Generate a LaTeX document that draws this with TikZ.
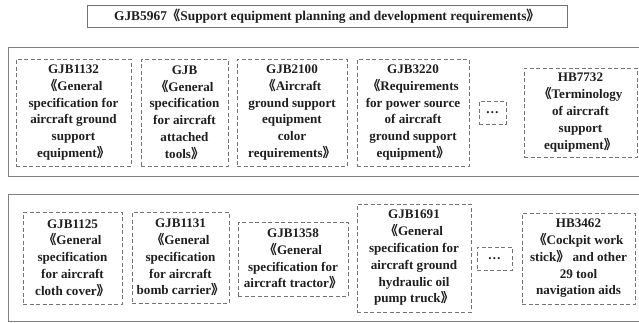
\documentclass[tikz,border=0pt]{standalone}
\usepackage{fontspec}
\setmainfont{Liberation Serif}
\newfontfamily\cjkfont{Noto Sans CJK SC}
\newcommand\lbk{{\cjkfont 《}}
\newcommand\rbk{{\cjkfont 》}}
\begin{document}
\begin{tikzpicture}[x=1pt,y=-1pt,
  txt/.style={font=\bfseries\fontsize{13.1}{16.8}\selectfont, text=black!88, align=center, inner sep=0pt},
  stdbox/.style={txt, draw=black!55, dashed, dash pattern=on 4pt off 2.5pt, line width=0.9pt},
  outerbox/.style={draw=black!50, line width=1.1pt},
  titlebox/.style={txt, draw=black!55, line width=1pt}]
\useasboundingbox (0,0) rectangle (639,322);
\clip (0,0) rectangle (639,322);
\node[titlebox, minimum width=480pt, minimum height=22pt, font=\bfseries\fontsize{13.4}{16.8}\selectfont] (title) at (327,16) {GJB5967\lbk Support equipment planning and development requirements\rbk};
\node[outerbox, minimum width=660pt, minimum height=129pt, anchor=north west, inner sep=0pt] (top) at (8,47) {};
\node[outerbox, minimum width=660pt, minimum height=127pt, anchor=north west, inner sep=0pt] (bot) at (8,194) {};
% top row
\node[stdbox, minimum width=115pt, minimum height=107pt] (a1) at (73.5,112.5) {GJB1132\\\lbk General\\specification for\\aircraft ground\\support\\equipment\rbk};
\node[stdbox, minimum width=87pt, minimum height=107pt] (a2) at (184.5,112.5) {GJB\\\lbk General\\specification\\for aircraft\\attached\\tools\rbk};
\node[stdbox, minimum width=110pt, minimum height=107pt] (a3) at (292,112.5) {GJB2100\\\lbk Aircraft\\ground support\\equipment\\color\\requirements\rbk};
\node[stdbox, minimum width=112pt, minimum height=107pt] (a4) at (413,112.5) {GJB3220\\\lbk Requirements\\for power source\\of aircraft\\ground support\\equipment\rbk};
\node[stdbox, minimum width=27pt, minimum height=23pt] (adots) at (492.5,112.5) {…};
\node[stdbox, minimum width=113pt, minimum height=89pt] (a5) at (580.5,112.5) {HB7732\\\lbk Terminology\\of aircraft\\support\\equipment\rbk};
% bottom row
\node[stdbox, minimum width=99pt, minimum height=92pt] (b1) at (72.5,258) {GJB1125\\\lbk General\\specification\\for aircraft\\cloth cover\rbk};
\node[stdbox, minimum width=97pt, minimum height=91pt] (b2) at (180.5,257.5) {GJB1131\\\lbk General\\specification\\for aircraft\\bomb carrier\rbk};
\node[stdbox, minimum width=110pt, minimum height=74pt] (b3) at (293,259) {GJB1358\\\lbk General\\specification for\\aircraft tractor\rbk};
\node[stdbox, minimum width=114pt, minimum height=108pt] (b4) at (414,258) {GJB1691\\\lbk General\\specification for\\aircraft ground\\hydraulic oil\\pump truck\rbk};
\node[stdbox, minimum width=35pt, minimum height=23pt] (bdots) at (494.5,258.5) {…};
\node[stdbox, minimum width=113pt, minimum height=91pt] (b5) at (578.5,258.5) {HB3462\\\lbk Cockpit work\\stick\rbk\ and other\\29 tool\\navigation aids};
\end{tikzpicture}
\end{document}
